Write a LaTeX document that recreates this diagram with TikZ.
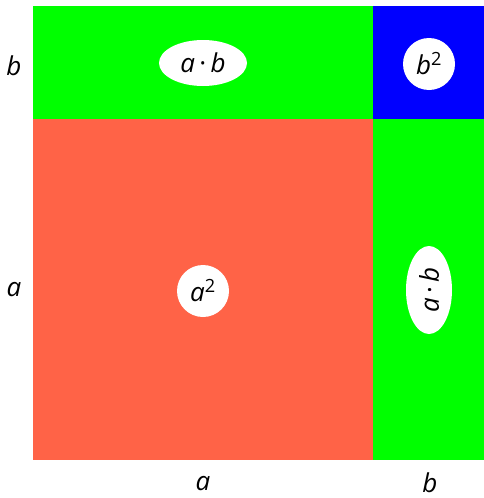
\documentclass[tikz,border=0pt]{standalone}
\usepackage{fontspec}
\setmainfont{Open Sans}
\usetikzlibrary{shapes.geometric}
\definecolor{tomatoc}{HTML}{FF6347}
\definecolor{limec}{HTML}{00FF00}
\definecolor{bluec}{HTML}{0000FF}
\tikzset{
  txt/.style={font=\fontsize{26}{28}\selectfont, inner sep=0pt},
  lbl/.style={txt, font=\fontsize{26}{28}\selectfont\itshape},
  oval/.style={txt, ellipse, fill=white, minimum width=88pt, minimum height=46pt},
  disc/.style={txt, circle, fill=white, minimum size=52pt}
}
\newcommand{\ab}{\textit{a}\,·\,\textit{b}}
\begin{document}
\begin{tikzpicture}[x=1pt,y=-1pt]
\useasboundingbox (0,0) rectangle (484,498);
\fill[tomatoc] (33,119) rectangle (373,460);
\fill[limec] (33,6) rectangle (373,119);
\fill[bluec] (373,6) rectangle (484,119);
\fill[limec] (373,119) rectangle (484,460);
\node[oval] (ab1) at (203,63) {\ab};
\node[disc] (bb) at (429,64) {\textit{b}\textsuperscript{2}};
\node[disc] (aa) at (203,291) {\textit{a}\textsuperscript{2}};
\node[oval, rotate=90] (ab2) at (429,290) {\ab};
\node[lbl] (lb) at (14,66) {b};
\node[lbl] (la) at (14,290) {a};
\node[lbl] (ba) at (203,484) {a};
\node[lbl] (bbt) at (430,483) {b};
\end{tikzpicture}
\end{document}
